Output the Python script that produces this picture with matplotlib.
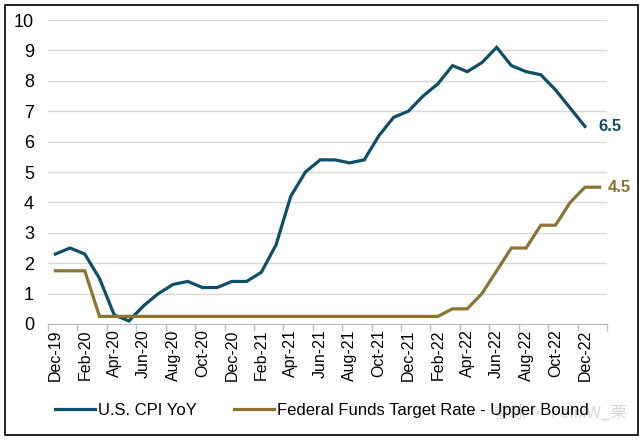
import matplotlib
matplotlib.use("Agg")
import matplotlib.pyplot as plt
from matplotlib.patches import Rectangle

plt.rcParams['font.family'] = ['Liberation Sans', 'Noto Sans CJK SC', 'DejaVu Sans']

months = ["Dec-19", "Jan-20", "Feb-20", "Mar-20", "Apr-20", "May-20", "Jun-20", "Jul-20",
          "Aug-20", "Sep-20", "Oct-20", "Nov-20", "Dec-20", "Jan-21", "Feb-21", "Mar-21",
          "Apr-21", "May-21", "Jun-21", "Jul-21", "Aug-21", "Sep-21", "Oct-21", "Nov-21",
          "Dec-21", "Jan-22", "Feb-22", "Mar-22", "Apr-22", "May-22", "Jun-22", "Jul-22",
          "Aug-22", "Sep-22", "Oct-22", "Nov-22", "Dec-22", "Jan-23"]

cpi = [2.3, 2.5, 2.3, 1.5, 0.3, 0.1, 0.6, 1.0, 1.3, 1.4, 1.2, 1.2, 1.4, 1.4, 1.7, 2.6,
       4.2, 5.0, 5.4, 5.4, 5.3, 5.4, 6.2, 6.8, 7.0, 7.5, 7.9, 8.5, 8.3, 8.6, 9.1, 8.5,
       8.3, 8.2, 7.7, 7.1, 6.5]

fed = [1.75, 1.75, 1.75, 0.25, 0.25, 0.25, 0.25, 0.25, 0.25, 0.25, 0.25, 0.25, 0.25,
       0.25, 0.25, 0.25, 0.25, 0.25, 0.25, 0.25, 0.25, 0.25, 0.25, 0.25, 0.25, 0.25,
       0.25, 0.5, 0.5, 1.0, 1.75, 2.5, 2.5, 3.25, 3.25, 4.0, 4.5, 4.5]

series_names = ["U.S. CPI YoY", "Federal Funds Target Rate - Upper Bound"]
end_labels = ["6.5", "4.5"]

c_cpi = "#0D4F6B"
c_fed = "#8C7433"

fig = plt.figure(figsize=(6.44, 4.4), dpi=100)
ax = fig.add_axes([48/644, 1-324/440, (607-48)/644, (324-20)/440])

x_cpi = list(range(len(cpi)))
x_fed = list(range(len(fed)))
ax.plot(x_cpi, cpi, color=c_cpi, lw=2.3, label=series_names[0], solid_joinstyle='miter', zorder=3)
ax.plot(x_fed, fed, color=c_fed, lw=2.3, label=series_names[1], solid_joinstyle='miter', zorder=3)

ax.set_xlim(-0.5, len(months) - 0.5)
ax.set_ylim(0, 10)
ax.set_yticks(range(0, 11))
ax.tick_params(axis='y', length=0, labelsize=13, pad=10)
ax.grid(axis='y', color='#D9D9D9', lw=1)
ax.set_axisbelow(True)

ax.set_xticks(range(0, len(months), 2))
ax.set_xticklabels([months[i] for i in range(0, len(months), 2)], rotation=90, fontsize=11.5)
ax.tick_params(axis='x', which='major', length=0, pad=4)
ax.set_xticks([i - 0.5 for i in range(0, len(months) + 1, 2)], minor=True)
ax.tick_params(axis='x', which='minor', length=5, color='#BFBFBF', width=1)

for s in ['left', 'right', 'top']:
    ax.spines[s].set_visible(False)
ax.spines['bottom'].set_color('#BFBFBF')

ax.annotate(end_labels[0], xy=(x_cpi[-1], cpi[-1]), xytext=(10, 0), textcoords='offset points',
            color=c_cpi, fontsize=12, fontweight='bold', va='center', ha='left')
ax.annotate(end_labels[1], xy=(x_fed[-1], fed[-1]), xytext=(6, 0), textcoords='offset points',
            color=c_fed, fontsize=12, fontweight='bold', va='center', ha='left')

leg = fig.legend(loc='center', bbox_to_anchor=(0.5, 1-410/440), ncol=2, frameon=False,
                 fontsize=12, handlelength=2.4, columnspacing=2.2, handletextpad=0.2)

fig.text(0.87, 1-413/440, "雪球 · FelixW_栗", fontsize=12, color='#C8C8C8', alpha=0.7,
         ha='center', va='center', family=['Noto Sans CJK SC', 'DejaVu Sans'])

fig.patches.append(Rectangle((5/644, 5/440), 633/644, 430/440, transform=fig.transFigure,
                             fill=False, edgecolor='black', lw=1.2))

fig.savefig("out.png", dpi=100)
